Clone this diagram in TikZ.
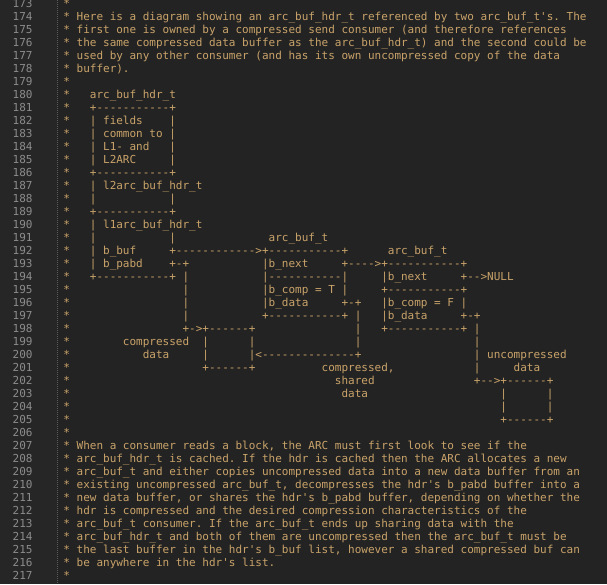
\documentclass[tikz,border=0pt]{standalone}
\usepackage{fontspec}
\setmonofont{DejaVu Sans Mono}[Ligatures=TeXOff]
\definecolor{bg}{HTML}{232323}
\definecolor{gutterbg}{HTML}{262626}
\definecolor{codetext}{HTML}{C9A36A}
\definecolor{gutternum}{HTML}{8C8C8C}
\definecolor{sepline}{HTML}{5C5C5C}
\tikzset{
  codetxt/.style={anchor=base west, inner sep=0pt, outer sep=0pt, text=codetext,
    font=\ttfamily\fontsize{11pt}{13pt}\selectfont},
  linenum/.style={anchor=base east, inner sep=0pt, outer sep=0pt, text=gutternum,
    font=\ttfamily\fontsize{11pt}{13pt}\selectfont},
  gutterline/.style={draw=sepline, line width=0.8pt, dash pattern=on 1pt off 1pt},
}
\newcommand\codeline[1]{\begingroup\catcode`\ =12\relax\catcode`\_=12\relax\codelineB{#1}}
\newcommand\codelineB[2]{%
  \pgfmathsetmacro\cly{20.7+(#1-174)*13}%
  \node[linenum] (num#1) at (32.6pt,-\cly pt) {#1};%
  \node[codetxt] (txt#1) at (63.4pt,-\cly pt) {#2};%
  \endgroup}
\begin{document}
\begin{tikzpicture}
\fill[bg] (0,0) rectangle (607pt,-584pt);
\useasboundingbox (0,0) rectangle (607pt,-584pt);
\fill[gutterbg] (0,0) rectangle (57pt,-584pt);
\coordinate (sepTop) at (57.3pt,0pt);
\coordinate (sepBot) at (57.3pt,-584pt);
\draw[gutterline] (sepTop) -- (sepBot);
\codeline{173}{*}
\codeline{174}{* Here is a diagram showing an arc_buf_hdr_t referenced by two arc_buf_t's. The}
\codeline{175}{* first one is owned by a compressed send consumer (and therefore references}
\codeline{176}{* the same compressed data buffer as the arc_buf_hdr_t) and the second could be}
\codeline{177}{* used by any other consumer (and has its own uncompressed copy of the data}
\codeline{178}{* buffer).}
\codeline{179}{*}
\codeline{180}{*   arc_buf_hdr_t}
\codeline{181}{*   +-----------+}
\codeline{182}{*   | fields    |}
\codeline{183}{*   | common to |}
\codeline{184}{*   | L1- and   |}
\codeline{185}{*   | L2ARC     |}
\codeline{186}{*   +-----------+}
\codeline{187}{*   | l2arc_buf_hdr_t}
\codeline{188}{*   |           |}
\codeline{189}{*   +-----------+}
\codeline{190}{*   | l1arc_buf_hdr_t}
\codeline{191}{*   |           |              arc_buf_t}
\codeline{192}{*   | b_buf     +------------>+-----------+      arc_buf_t}
\codeline{193}{*   | b_pabd    +-+           |b_next     +---->+-----------+}
\codeline{194}{*   +-----------+ |           |-----------|     |b_next     +-->NULL}
\codeline{195}{*                 |           |b_comp = T |     +-----------+}
\codeline{196}{*                 |           |b_data     +-+   |b_comp = F |}
\codeline{197}{*                 |           +-----------+ |   |b_data     +-+}
\codeline{198}{*                 +->+------+               |   +-----------+ |}
\codeline{199}{*        compressed  |      |               |                 |}
\codeline{200}{*           data     |      |<--------------+                 | uncompressed}
\codeline{201}{*                    +------+          compressed,            |     data}
\codeline{202}{*                                        shared               +-->+------+}
\codeline{203}{*                                         data                    |      |}
\codeline{204}{*                                                                 |      |}
\codeline{205}{*                                                                 +------+}
\codeline{206}{*}
\codeline{207}{* When a consumer reads a block, the ARC must first look to see if the}
\codeline{208}{* arc_buf_hdr_t is cached. If the hdr is cached then the ARC allocates a new}
\codeline{209}{* arc_buf_t and either copies uncompressed data into a new data buffer from an}
\codeline{210}{* existing uncompressed arc_buf_t, decompresses the hdr's b_pabd buffer into a}
\codeline{211}{* new data buffer, or shares the hdr's b_pabd buffer, depending on whether the}
\codeline{212}{* hdr is compressed and the desired compression characteristics of the}
\codeline{213}{* arc_buf_t consumer. If the arc_buf_t ends up sharing data with the}
\codeline{214}{* arc_buf_hdr_t and both of them are uncompressed then the arc_buf_t must be}
\codeline{215}{* the last buffer in the hdr's b_buf list, however a shared compressed buf can}
\codeline{216}{* be anywhere in the hdr's list.}
\codeline{217}{*}
\end{tikzpicture}
\end{document}
